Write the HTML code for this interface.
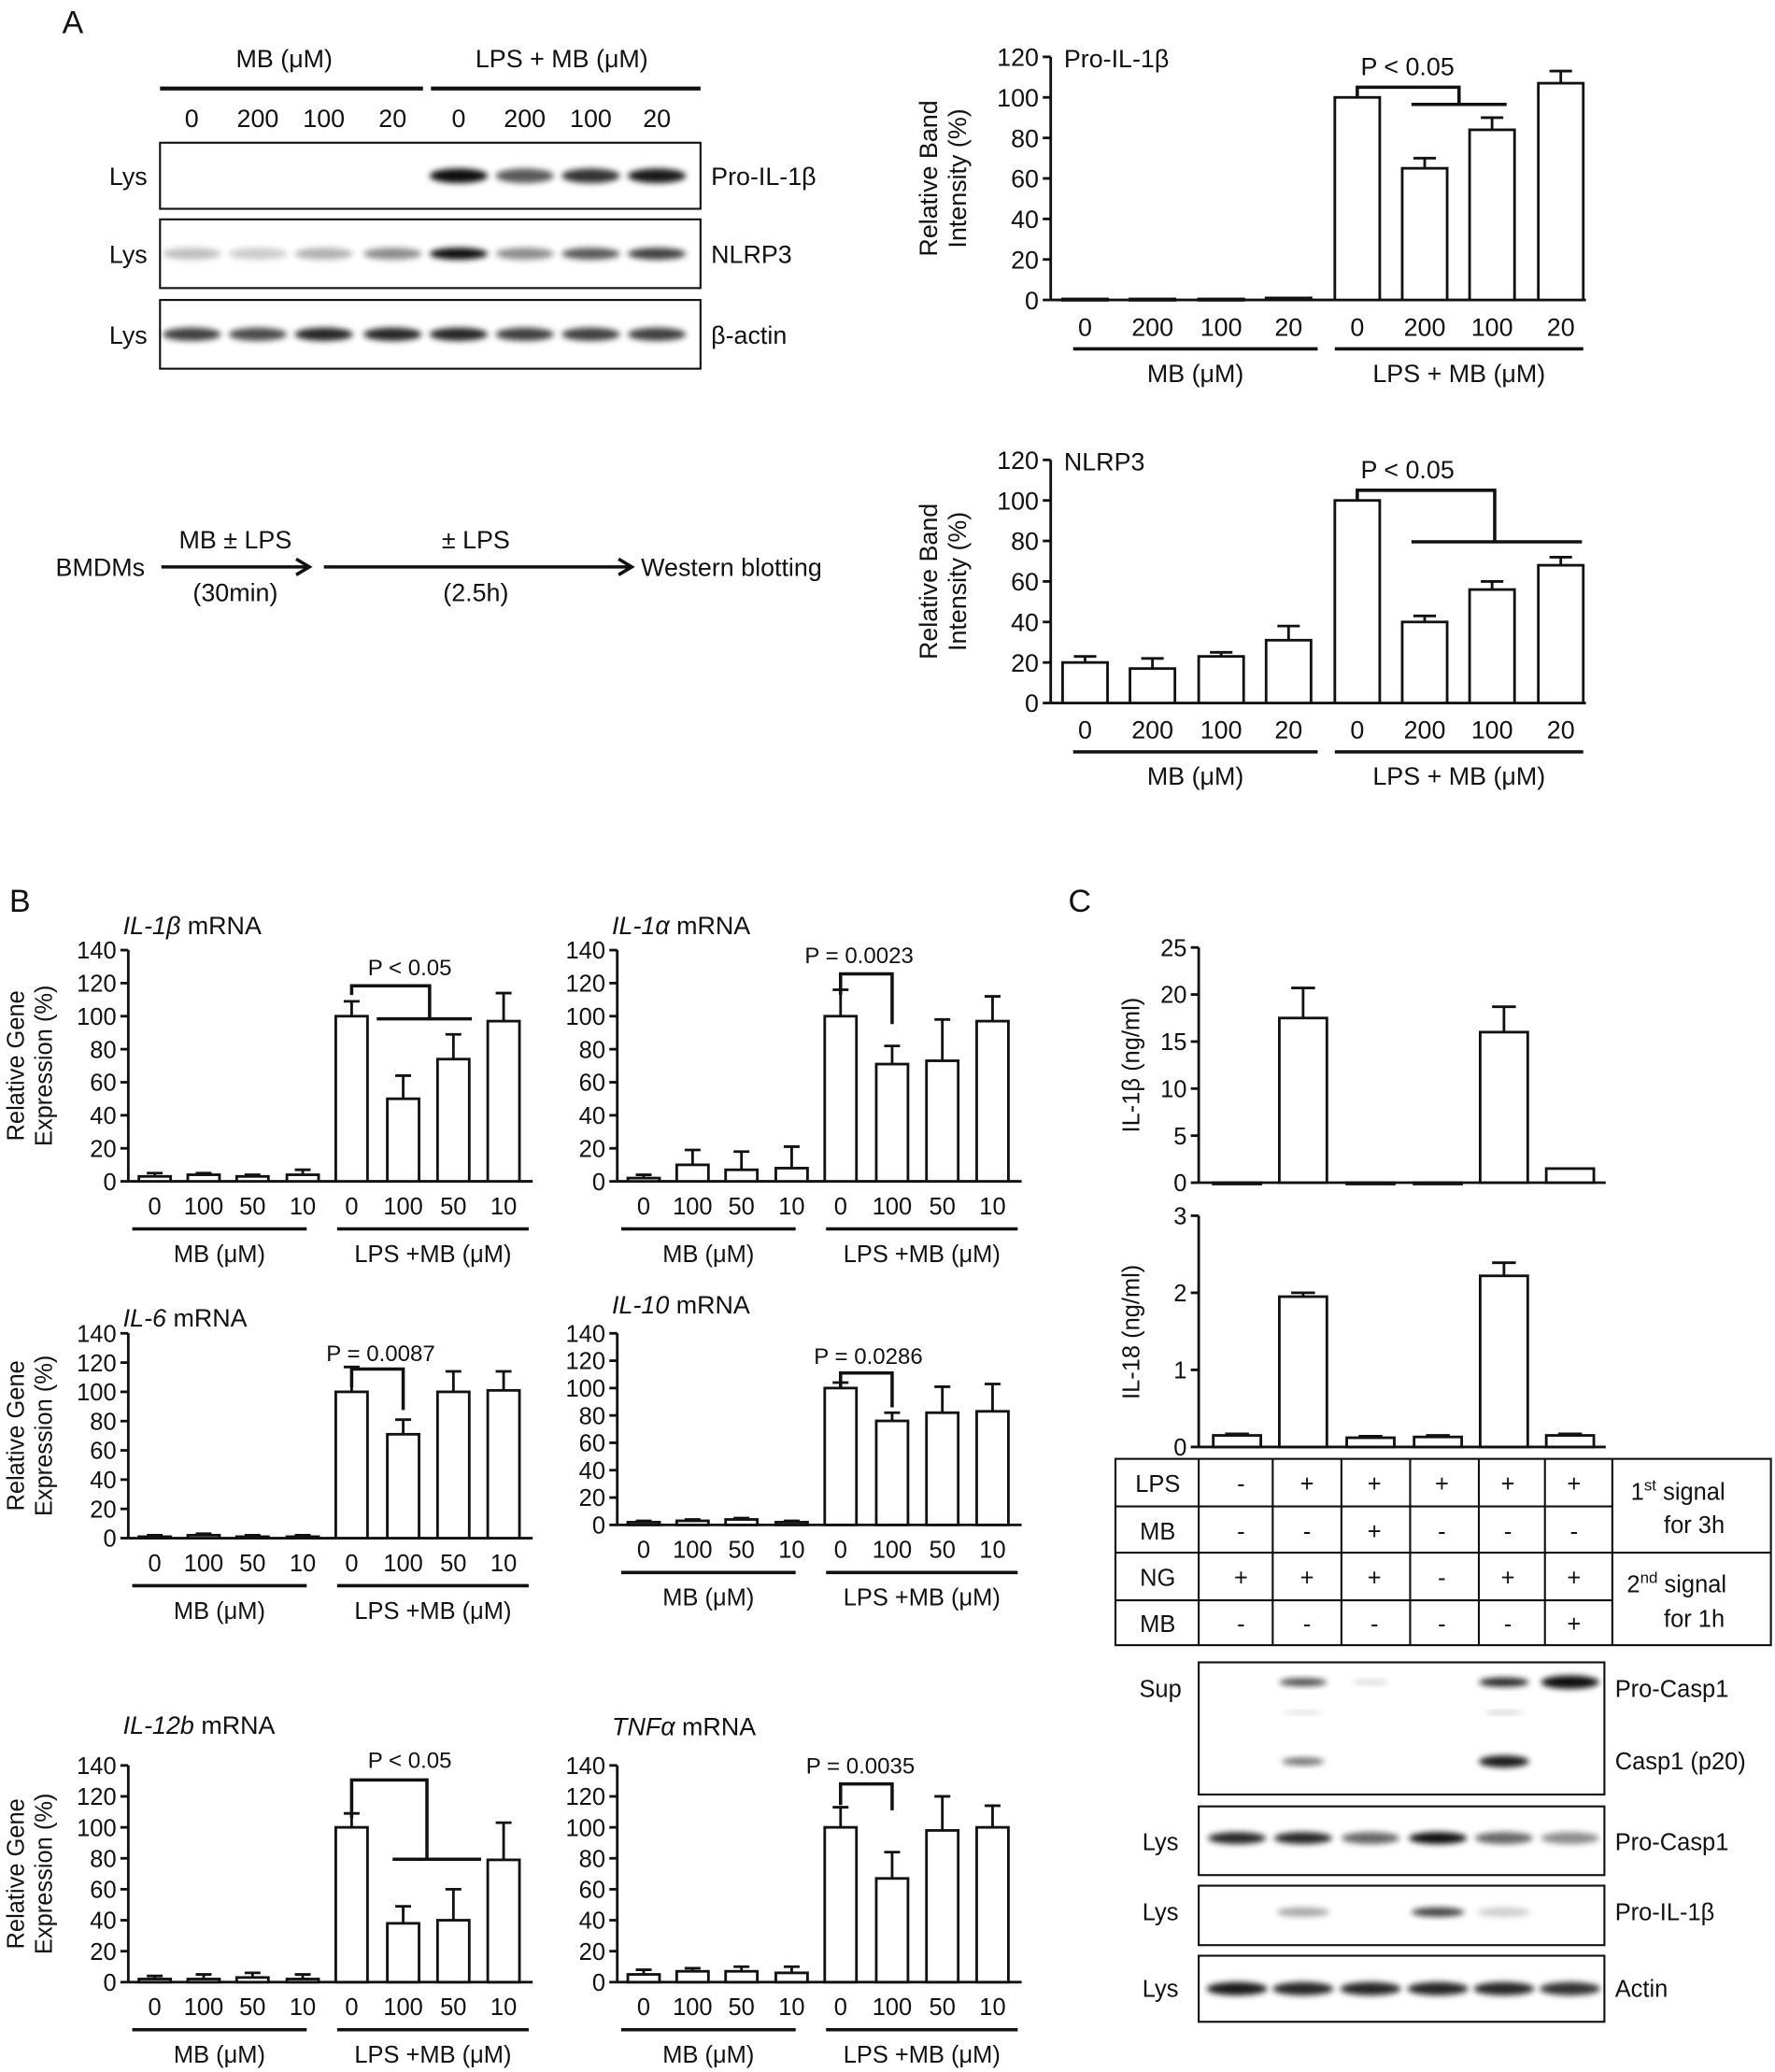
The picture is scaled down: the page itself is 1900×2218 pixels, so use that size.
<!DOCTYPE html>
<html><head><meta charset="utf-8"><style>
html,body{margin:0;padding:0;background:#fff}
svg{display:block}
text{font-family:"Liberation Sans",Arial,sans-serif;fill:#111}
</style></head><body>
<svg id="s" xmlns="http://www.w3.org/2000/svg" width="1900" height="2218" viewBox="0 0 1343 1568">
<defs><filter id="b" x="-20%" y="-50%" width="140%" height="200%"><feGaussianBlur stdDeviation="2.2"/></filter></defs>
<g id="g" stroke="#111" fill="none"></g>
</svg>
<script>
var G=document.getElementById('g'),NS='http://www.w3.org/2000/svg';
function el(t,a,txt){var e=document.createElementNS(NS,t);for(var k in a)e.setAttribute(k,a[k]);if(txt!==undefined)e.textContent=txt;G.appendChild(e);return e;}
function L(x1,y1,x2,y2,w){el('line',{x1:x1,y1:y1,x2:x2,y2:y2,'stroke-width':w||2});}
function P(d,w){el('path',{d:d,'stroke-width':w||2.5});}
function T(x,y,s,fs,anc,extra){var a={x:x,y:y,'font-size':fs||19,'text-anchor':anc||'middle',stroke:'none'};for(var k in extra)a[k]=extra[k];return el('text',a,s);}
function chart(o){
 var ax=o.ax,y0=o.y0,sc=o.sc;
 L(ax,y0,ax,y0-o.max*sc,2);L(ax,y0,o.xend,y0,2);
 for(var v=0;v<=o.max;v+=o.step){var y=y0-v*sc;L(ax-6,y,ax,y,2);T(ax-9,y+o.fs*0.36,String(v),o.fs,'end');}
 for(var i=0;i<o.c.length;i++){var h=o.v[i]*sc,x=o.c[i]-o.w/2;
  if(o.e[i]>0){var ty=y0-(o.v[i]+o.e[i])*sc;L(o.c[i],y0-h,o.c[i],ty,2);L(o.c[i]-o.w/4,ty,o.c[i]+o.w/4,ty,2);}
  el('rect',{x:x,y:y0-h,width:o.w,height:Math.max(h,1),fill:'#fff','stroke-width':2});
  if(o.lab)T(o.c[i],o.ly,o.lab[i],o.fs);}
 if(o.g){L(o.g[0],o.gy,o.g[1],o.gy,2.5);L(o.g[2],o.gy,o.g[3],o.gy,2.5);
  T((o.g[0]+o.g[1])/2,o.gy+25,o.gl[0],o.fs);T((o.g[2]+o.g[3])/2,o.gy+25,o.gl[1],o.fs);}
}
function band(cx,cy,w,h,op){el('ellipse',{cx:cx,cy:cy,rx:w/2,ry:h/2,fill:'#000','fill-opacity':op,stroke:'none',filter:'url(#b)'});}
T(55,25,'A',24);T(15,690,'B',24);T(817,690,'C',24);
T(215,51,'MB (μM)',19);T(425,51,'LPS + MB (μM)',19);L(121,67,320,67,3);L(326,67,530,67,3);
var lc=[145,195,245,297,347,397,447,497],ll=['0','200','100','20','0','200','100','20'];
lc.forEach(function(c,i){T(c,96,ll[i],19);});
[[108,158,'Pro-IL-1β',[0,0,0,0,.95,.65,.8,.9],11],[166,218,'NLRP3',[.25,.2,.3,.45,.95,.45,.65,.75],9],[227,279,'β-actin',[.75,.7,.85,.85,.85,.75,.75,.75],10]].forEach(function(r){
 el('rect',{x:121,y:r[0],width:409,height:r[1]-r[0],'stroke-width':1.5});
 T(97,(r[0]+r[1])/2+7,'Lys',19);T(538,(r[0]+r[1])/2+7,r[2],19,'start');
 lc.forEach(function(c,i){if(r[3][i]>0)band(c,(r[0]+r[1])/2,44,r[4],r[3][i]);});});
T(42,436,'BMDMs',19,'start');P('M122,429 L232,429',2.5);P('M224,423 L234,429 L224,435',2.5);
T(178,415,'MB ± LPS',19);T(178,455,'(30min)',19);
P('M245,429 L476,429',2.5);P('M468,423 L478,429 L468,435',2.5);
T(360,415,'± LPS',19);T(360,455,'(2.5h)',19);T(485,436,'Western blotting',19,'start');
var ac=[821,872,924,975,1027,1078,1129,1181];
function achart(y0,vals,errs,title){
 chart({ax:795,y0:y0,sc:1.533,max:120,step:20,xend:1200,c:ac,w:34,v:vals,e:errs,lab:ll,ly:y0+27,fs:19,g:[812,997,1010,1198],gy:y0+37,gl:['MB (μM)','LPS + MB (μM)']});
 T(805,y0-176,title,19,'start');
 el('text',{x:0,y:0,'font-size':19,'text-anchor':'middle',stroke:'none',transform:'translate(709,'+(y0-92)+') rotate(-90)'},'Relative Band');
 el('text',{x:0,y:0,'font-size':19,'text-anchor':'middle',stroke:'none',transform:'translate(731,'+(y0-92)+') rotate(-90)'},'Intensity (%)');
}
achart(227,[0.5,0.5,0.5,1,100,65,84,107],[0,0,0,0,0,5,6,6],'Pro-IL-1β');
T(1065,57,'P < 0.05',19);P('M1027,73 L1027,66 L1104,66 L1104,79',2.5);L(1068,79,1140,79,2.5);
achart(532,[20,17,23,31,100,40,56,68],[3,5,2,7,0,3,4,4],'NLRP3');
T(1065,362,'P < 0.05',19);P('M1027,378 L1027,371 L1131,371 L1131,410',2.5);L(1068,410,1197,410,2.5);
function bchart(ax,y0,top,vals,errs,ty,it){
 var sc=(y0-top)/140,c=[ax+20,ax+57,ax+94,ax+132,ax+169,ax+208,ax+246,ax+284];
 chart({ax:ax,y0:y0,sc:sc,max:140,step:20,xend:ax+306,c:c,w:24,v:vals,e:errs,lab:['0','100','50','10','0','100','50','10'],ly:y0+25,fs:18,g:[ax+3,ax+135,ax+158,ax+303],gy:y0+36,gl:['MB (μM)','LPS +MB (μM)']});
 var t=T(ax-4,ty,'',19,'start');var a=document.createElementNS(NS,'tspan');a.setAttribute('font-style','italic');a.textContent=it;t.appendChild(a);var b=document.createElementNS(NS,'tspan');b.textContent=' mRNA';t.appendChild(b);
 return c;
}
function ylab(y0,top){el('text',{x:0,y:0,'font-size':18,'text-anchor':'middle',stroke:'none',transform:'translate(18,'+((y0+top)/2)+') rotate(-90)'},'Relative Gene');
 el('text',{x:0,y:0,'font-size':18,'text-anchor':'middle',stroke:'none',transform:'translate(39,'+((y0+top)/2)+') rotate(-90)'},'Expression (%)');}
bchart(97,894,719,[3,4,3,4,100,50,74,97],[2,1,1,3,9,14,15,17],707,'IL-1β');ylab(894,719);
T(310,738,'P < 0.05',17);P('M266,753 L266,746 L325,746 L325,771',2.5);L(285,771,357,771,2.5);
bchart(467,894,719,[2,10,7,8,100,71,73,97],[2,9,11,13,16,11,25,15],707,'IL-1α');
T(650,729,'P = 0.0023',17);P('M636,753 L636,737 L675,737 L675,775',2.5);
bchart(97,1164,1009,[1,2,1,1,100,71,100,101],[1,1,1,1,17,10,14,13],1004,'IL-6');ylab(1164,1009);
T(288,1030,'P = 0.0087',17);P('M266,1050 L266,1036 L305,1036 L305,1067',2.5);
bchart(467,1154,1009,[2,3,4,2,100,76,82,83],[1,1,1,1,4,6,19,20],994,'IL-10');
T(657,1032,'P = 0.0286',17);P('M636,1050 L636,1039 L675,1039 L675,1065',2.5);
bchart(97,1500,1336,[2,2,3,2,100,38,40,79],[2,3,3,3,9,11,20,24],1312,'IL-12b');ylab(1500,1336);
T(310,1338,'P < 0.05',17);P('M266,1376 L266,1347 L323,1347 L323,1407',2.5);L(297,1407,364,1407,2.5);
bchart(467,1500,1336,[5,7,7,6,100,67,98,100],[3,2,3,4,13,17,22,14],1313,'TNFα');
T(651,1342,'P = 0.0035',17);P('M636,1366 L636,1350 L675,1350 L675,1370',2.5);
var cc=[936,986,1037,1088,1138,1188];
chart({ax:907,y0:895,sc:178/25,max:25,step:5,xend:1215,c:cc,w:36,v:[0,17.5,0,0,16,1.5],e:[0,3.2,0,0,2.7,0],fs:18});
el('text',{x:0,y:0,'font-size':18,'text-anchor':'middle',stroke:'none',transform:'translate(862,806) rotate(-90)'},'IL-1β (ng/ml)');
chart({ax:907,y0:1095,sc:175/3,max:3,step:1,xend:1215,c:cc,w:36,v:[0.15,1.95,0.12,0.13,2.22,0.15],e:[0.02,0.05,0.02,0.02,0.17,0.02],fs:18});
el('text',{x:0,y:0,'font-size':18,'text-anchor':'middle',stroke:'none',transform:'translate(862,1008) rotate(-90)'},'IL-18 (ng/ml)');
el('rect',{x:844,y:1104,width:496,height:141,'stroke-width':1.5});
[1140,1175,1211].forEach(function(y){L(844,y,1220,y,1.5);});L(1220,1175,1340,1175,1.5);
[907,963,1015,1067,1119,1169,1220].forEach(function(x){L(x,1104,x,1245,1.5);});
var rows=[['LPS','-+++++'],['MB','--+---'],['NG','+++-++'],['MB','-----+']],ry=[1129,1165,1200,1235];
rows.forEach(function(r,i){T(876,ry[i],r[0],18);for(var j=0;j<6;j++)T(cc[j]+3,ry[i],r[1][j],18);});
function sup(x,y,n,s){var t=T(x,y,n,18,'start');var a=document.createElementNS(NS,'tspan');a.setAttribute('font-size','12');a.setAttribute('dy','-7');a.textContent=s;t.appendChild(a);var b=document.createElementNS(NS,'tspan');b.setAttribute('dy','7');b.textContent=' signal';t.appendChild(b);}
sup(1234,1135,'1','st');T(1282,1160,'for 3h',18);
sup(1231,1205,'2','nd');T(1282,1231,'for 1h',18);
var bc=[936,986,1037,1088,1138,1188];
el('rect',{x:907,y:1258,width:307,height:100,'stroke-width':1.5});
T(878,1284,'Sup',18);T(1222,1284,'Pro-Casp1',18,'start');T(1222,1339,'Casp1 (p20)',18,'start');
band(986,1273,36,6,.7);band(1037,1273,28,4,.15);band(1138,1273,38,7,.85);band(1188,1273,44,10,.95);
band(986,1296,30,3,.15);band(1138,1296,30,3,.2);
band(986,1333,32,6,.55);band(1138,1333,38,9,.9);
el('rect',{x:907,y:1367,width:307,height:52,'stroke-width':1.5});T(878,1400,'Lys',18);T(1222,1400,'Pro-Casp1',18,'start');
[.85,.85,.6,.95,.6,.45].forEach(function(o,i){band(bc[i],1391,44,9,o);});
el('rect',{x:907,y:1427,width:307,height:45,'stroke-width':1.5});T(878,1453,'Lys',18);T(1222,1453,'Pro-IL-1β',18,'start');
[0,.35,0,.75,.2,0].forEach(function(o,i){if(o)band(bc[i],1447,40,7,o);});
el('rect',{x:907,y:1480,width:307,height:50,'stroke-width':1.5});T(878,1511,'Lys',18);T(1222,1511,'Actin',18,'start');
[.9,.85,.85,.85,.85,.8].forEach(function(o,i){band(bc[i],1505,46,10,o);});
</script>
</body></html>
